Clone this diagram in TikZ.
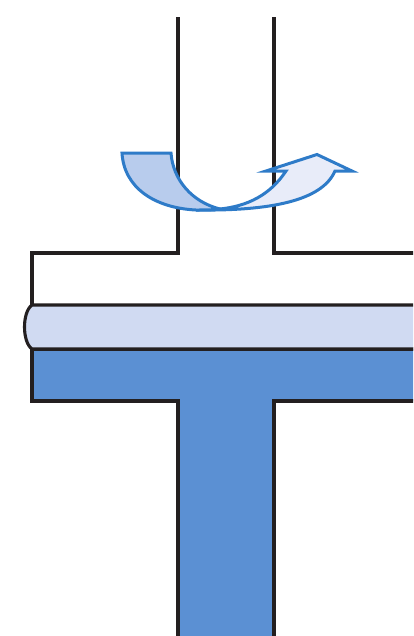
\documentclass[tikz,border=0pt]{standalone}
\usepackage{xcolor}
\usetikzlibrary{calc}
\definecolor{wall}{HTML}{231F20}
\definecolor{mblue}{HTML}{5B90D3}
\definecolor{mpale}{HTML}{D0DAF2}
\definecolor{flowedge}{HTML}{2E7BC8}
\definecolor{flowin}{HTML}{B8CCED}
\definecolor{flowout}{HTML}{E8ECF9}
\begin{document}
\begin{tikzpicture}[
    x=0.02cm, y=-0.02cm,
    wallline/.style={draw=wall, line width=0.062cm, line join=miter},
    flowline/.style={draw=flowedge, line width=0.06cm, line join=miter}
]
    \useasboundingbox (0,0) rectangle (413,636);
    \begin{scope}
    \clip (0,0) rectangle (413,636);
    % upper channel
    \draw[wallline] (178,17) -- (178,253) -- (32,253) -- (32,305);
    \draw[wallline] (274,17) -- (274,253) -- (420,253);
    % lower T
    \draw[wallline, fill=mblue] (32,349) -- (32,401) -- (178,401) -- (178,645) -- (274,645) -- (274,401) -- (420,401) -- (420,349) -- cycle;
    % membrane
    \draw[wallline, fill=mpale] (420,305) -- (32,305) .. controls (22,312) and (22,342) .. (32,349) -- (420,349);
    % flow arrow
    \draw[flowline, fill=flowout] (220,209) .. controls (248,206) and (270,195) .. (286,171) -- (266,171) -- (317,154.5) -- (352,171) -- (335,171) .. controls (322,201) and (270,211) .. (196,210) -- cycle;
    \draw[flowline, fill=flowin] (122,153) -- (171,153) .. controls (173,180) and (192,202) .. (220,209) .. controls (212,210) and (204,210) .. (196,210) .. controls (155,208) and (124,188) .. cycle;
    \end{scope}
\end{tikzpicture}
\end{document}
